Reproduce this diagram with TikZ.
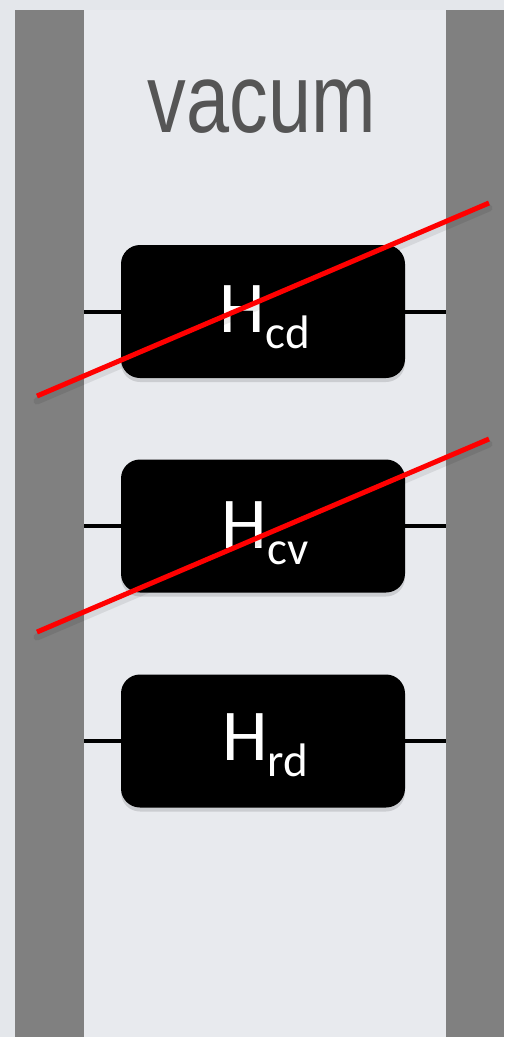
\documentclass[tikz,border=0pt]{standalone}
\usepackage{fontspec}
\setmainfont{Carlito}
\newfontfamily\labelfont{Liberation Sans}
\usetikzlibrary{shadows}
\definecolor{pagebg}{RGB}{228,231,235}
\definecolor{colbg}{RGB}{232,234,238}
\definecolor{wallgray}{RGB}{128,128,128}
\definecolor{titlegray}{RGB}{85,85,85}
\tikzset{
  wall/.style={fill=wallgray, draw=none, inner sep=0pt, outer sep=0pt},
  hbox/.style={fill=black, draw=none, rounded corners=19pt, minimum width=284pt,
    minimum height=133pt, inner sep=0pt,
    drop shadow={shadow xshift=0pt, shadow yshift=-4pt, opacity=0.12, fill=black}},
  hlabel/.style={text=white, anchor=base, inner sep=0pt,
    font=\fontsize{73}{73}\selectfont},
  link/.style={line width=4pt, black},
  cut/.style={line width=5pt, red, line cap=butt},
  cutshade/.style={line width=7pt, black, opacity=0.08, line cap=round},
}
\newcommand{\hsub}[1]{H\raisebox{-16pt}{\fontsize{47}{47}\selectfont #1}}
\begin{document}
\begin{tikzpicture}[x=1pt, y=-1pt]
  % page and central column
  \fill[pagebg] (0,0) rectangle (504,1037);
  \fill[colbg] (84,10) rectangle (446,1037);
  \useasboundingbox (0,0) rectangle (504,1037);

  % side walls
  \node[wall, minimum width=69pt, minimum height=1027pt, anchor=north west] (lwall) at (15,10) {};
  \node[wall, minimum width=58pt, minimum height=1027pt, anchor=north west] (rwall) at (446,10) {};

  % title
  \node[text=titlegray, anchor=base, inner sep=0pt, xscale=0.79,
        font=\labelfont\fontsize{98}{98}\selectfont] (title) at (262,132) {vacum};

  % terms
  \node[hbox] (hcd) at (263,311.5) {};
  \node[hbox] (hcv) at (263,526) {};
  \node[hbox] (hrd) at (263,741) {};

  \node[hlabel] (lcd) at (265,332) {\hsub{cd}};
  \node[hlabel] (lcv) at (265,548) {\hsub{cv}};
  \node[hlabel] (lrd) at (265,760) {\hsub{rd}};

  % couplings to the walls
  \foreach \b in {hcd,hcv,hrd}{
    \draw[link] (\b.west) -- (\b.west -| lwall.east);
    \draw[link] (\b.east) -- (\b.east -| rwall.west);
  }

  % struck-out terms
  \coordinate (c1a) at (37,396);
  \coordinate (c1b) at (489,203);
  \coordinate (c2a) at (37,632);
  \coordinate (c2b) at (489,439);
  \draw[cutshade] ([yshift=-5pt]c1a) -- ([yshift=-5pt]c1b);
  \draw[cutshade] ([yshift=-5pt]c2a) -- ([yshift=-5pt]c2b);
  \draw[cut] (c1a) -- (c1b);
  \draw[cut] (c2a) -- (c2b);
\end{tikzpicture}
\end{document}
